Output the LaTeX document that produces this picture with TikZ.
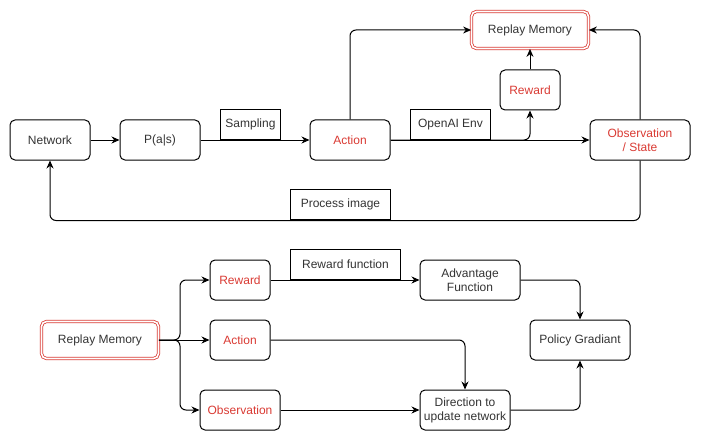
\documentclass[tikz,border=0pt]{standalone}
\usepackage{fontspec}
\setmainfont{Liberation Sans}
\usepackage{xcolor}
\usetikzlibrary{arrows.meta}
\definecolor{txtred}{HTML}{D93A33}
\definecolor{txtgray}{HTML}{333333}

\begin{document}
\begin{tikzpicture}[x=1pt,y=-1pt,line width=1pt,font=\fontsize{12}{14}\selectfont,
  >={Stealth[length=8pt,width=7pt]},
  box/.style={draw,rounded corners=5pt,minimum width=#1,minimum height=40pt,inner sep=1pt,align=center,text=txtgray},
  box/.default=80pt,
  lbl/.style={draw,anchor=south west,minimum width=#1,minimum height=30pt,inner sep=2pt,text=txtgray},
  mem/.style={box=117pt,minimum height=37pt,draw=txtred,line width=0.8pt,double=white,double distance=1.6pt}]
\useasboundingbox (0,0) rectangle (701,441);
% top loop
\node[box] (net) at (50,140) {Network};
\node[box] (pas) at (160,140) {P(a|s)};
\node[box,text=txtred] (act) at (350,140) {Action};
\node[box=100pt,text=txtred] (obs) at (640,140) {Observation\\/ State};
\node[box=60pt,text=txtred] (rew) at (530,90) {Reward};
\node[mem] (mem) at (530,30) {Replay Memory};
\node[lbl=60pt] (samp) at (220,140) {Sampling};
\node[lbl=80pt] (env) at (410,140) {OpenAI Env};
\node[lbl=100pt] (pimg) at (290,220) {Process image};
\draw[->] (net) -- (pas);
\draw[->] (pas) -- (act);
\draw[->] (act) -- (obs);
\draw[->,rounded corners=6pt] (act.east) -| (rew.south);
\draw[->] (rew) -- (mem);
\draw[->,rounded corners=6pt] (act.north) |- (mem.west);
\draw[->,rounded corners=6pt] (obs.north) |- (mem.east);
\draw[->,rounded corners=6pt] (obs.south) -- ++(0,60) -| (net.south);
% bottom update
\node[mem] (mem2) at (100,340) {Replay Memory};
\node[box=60pt,text=txtred] (rew2) at (240,280) {Reward};
\node[box=60pt,text=txtred] (act2) at (240,340) {Action};
\node[box=80pt,text=txtred] (obs2) at (240,410) {Observation};
\node[box=100pt] (adv) at (470,280) {Advantage\\Function};
\node[box=100pt] (pg) at (580,340) {Policy Gradiant};
\node[box=90pt] (dir) at (465,410) {Direction to\\update network};
\node[lbl=110pt] (rfun) at (290,280) {Reward function};
\coordinate (fork) at (180,340);
\draw[->,rounded corners=6pt] (mem2.east) -- (fork) |- (rew2);
\draw[->] (mem2) -- (act2);
\draw[->,rounded corners=6pt] (mem2.east) -- (fork) |- (obs2);
\draw[->] (rew2) -- (adv);
\draw[->,rounded corners=6pt] (act2) -| (dir);
\draw[->] (obs2) -- (dir);
\draw[->,rounded corners=6pt] (adv) -| (pg);
\draw[->,rounded corners=6pt] (dir) -| (pg);
\end{tikzpicture}
\end{document}
